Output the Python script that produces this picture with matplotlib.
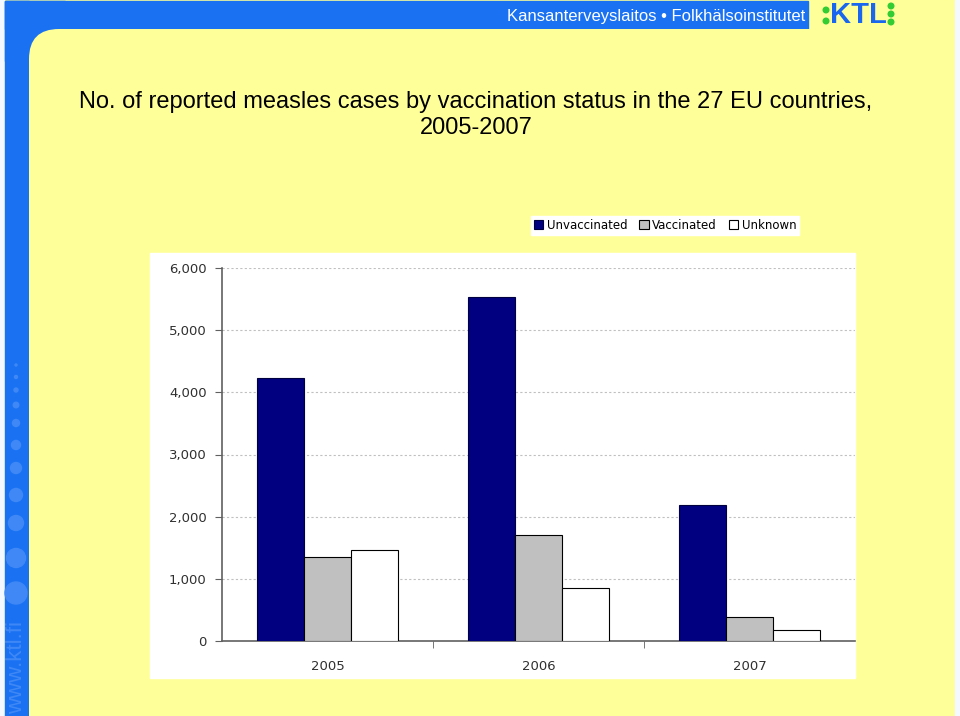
import matplotlib
matplotlib.use("Agg")
import matplotlib.pyplot as plt
from matplotlib.patches import Rectangle, Circle, FancyBboxPatch
import numpy as np

YEARS = ["2005", "2006", "2007"]
UNVACCINATED = [4230, 5530, 2180]
VACCINATED = [1350, 1700, 390]
UNKNOWN = [1470, 850, 180]
SERIES = ["Unvaccinated", "Vaccinated", "Unknown"]
Y_TICKS = [0, 1000, 2000, 3000, 4000, 5000, 6000]

TITLE = ("No. of reported measles cases by vaccination status in the 27 EU countries,\n"
         "2005-2007")
HEADER = "Kansanterveyslaitos \u2022 Folkh\u00e4lsoinstitutet"

YELLOW = "#FFFF99"
BLUE = "#1A72F2"
EDGE = "#f4f8ff"
W, H = 960, 716

fig = plt.figure(figsize=(9.6, 7.16), dpi=100)
fig.patch.set_facecolor(EDGE)

# background slide decoration, in pixel coordinates
bg = fig.add_axes([0, 0, 1, 1])
bg.set_xlim(0, W)
bg.set_ylim(H, 0)
bg.axis("off")
bg.add_patch(Rectangle((5, 0), 950, H, color=YELLOW))
bg.add_patch(Rectangle((5, 1), 803, 28, color=BLUE))
bg.add_patch(Rectangle((5, 1), 24, H, color=BLUE))
bg.add_patch(Rectangle((5, 1), 60, 60, color=BLUE))
bg.add_patch(FancyBboxPatch((29, 29), 926, 1000, boxstyle="round,pad=0,rounding_size=30",
                            facecolor=YELLOW, edgecolor="none"))
bg.add_patch(Rectangle((955, 0), 5, H, color=EDGE))

# dots down the left band
for y, rad in [(365, 1), (377, 1.5), (390, 2), (405, 2.8), (423, 3.5), (445, 4.5),
               (468, 5.5), (495, 6.5), (523, 7.5), (558, 9.5), (593, 11)]:
    bg.add_patch(Circle((16, y), rad, color="#3f88f6"))
bg.text(17, 714, "www.ktl.fi", rotation=90, ha="center", va="bottom",
        fontsize=16, color="#3f88f6", family="Liberation Sans")

bg.text(805, 17, HEADER, ha="right", va="center", color="white", fontsize=12,
        family="Liberation Sans")

# KTL logo
bg.text(858, 15, "KTL", ha="center", va="center", color="#1a66ee", fontsize=21,
        fontweight="bold", family="Liberation Sans")
for x, y in [(826, 10), (826, 21), (891, 6), (891, 14), (891, 22)]:
    bg.add_patch(Circle((x, y), 2.8, color="#33cc33"))

bg.text(476, 115, TITLE, ha="center", va="center", fontsize=17,
        family="Liberation Sans", linespacing=1.25)

# white chart area
bg.add_patch(Rectangle((150, 253), 705, 425, color="white"))

# chart
ax = fig.add_axes([222 / W, 1 - 641 / H, (855 - 222) / W, (641 - 268) / H])
ax.set_facecolor("white")
x = np.arange(len(YEARS))
bw = 0.223
ax.bar(x - bw, UNVACCINATED, bw, color="#000080", edgecolor="#000040", linewidth=0.8,
       label=SERIES[0], zorder=3)
ax.bar(x, VACCINATED, bw, color="#C0C0C0", edgecolor="black", linewidth=0.8,
       label=SERIES[1], zorder=3)
ax.bar(x + bw, UNKNOWN, bw, color="white", edgecolor="black", linewidth=0.8,
       label=SERIES[2], zorder=3)

ax.set_xlim(-0.5, 2.5)
ax.set_ylim(0, 6000)
ax.set_yticks(Y_TICKS)
ax.set_yticklabels([f"{v:,}" for v in Y_TICKS], fontsize=9.5, color="#303030")
ax.set_xticks(x)
ax.set_xticklabels(YEARS, fontsize=9.5, color="#303030")
ax.set_xticks([0.5, 1.5], minor=True)
ax.tick_params(axis="x", which="major", length=0, pad=14)
ax.tick_params(axis="x", which="minor", length=5, color="#606060")
ax.tick_params(axis="y", length=5, color="#606060", pad=6)
for yv in Y_TICKS[1:]:
    ax.axhline(yv, color="#c0c0c0", linestyle=(0, (2, 2)), linewidth=0.8, zorder=1)
for s in ["top", "right"]:
    ax.spines[s].set_visible(False)
for s in ["left", "bottom"]:
    ax.spines[s].set_color("#606060")
    ax.spines[s].set_linewidth(1.2)

fig.legend(loc="center", bbox_to_anchor=(665 / W, 1 - 225.5 / H), ncol=3,
           fontsize=8.5, frameon=True, fancybox=False, edgecolor="white",
           facecolor="white", framealpha=1, handlelength=0.8, handleheight=0.8,
           handletextpad=0.3, columnspacing=1.0, borderpad=0.25)

fig.savefig("out.png", dpi=100, facecolor=fig.get_facecolor())
